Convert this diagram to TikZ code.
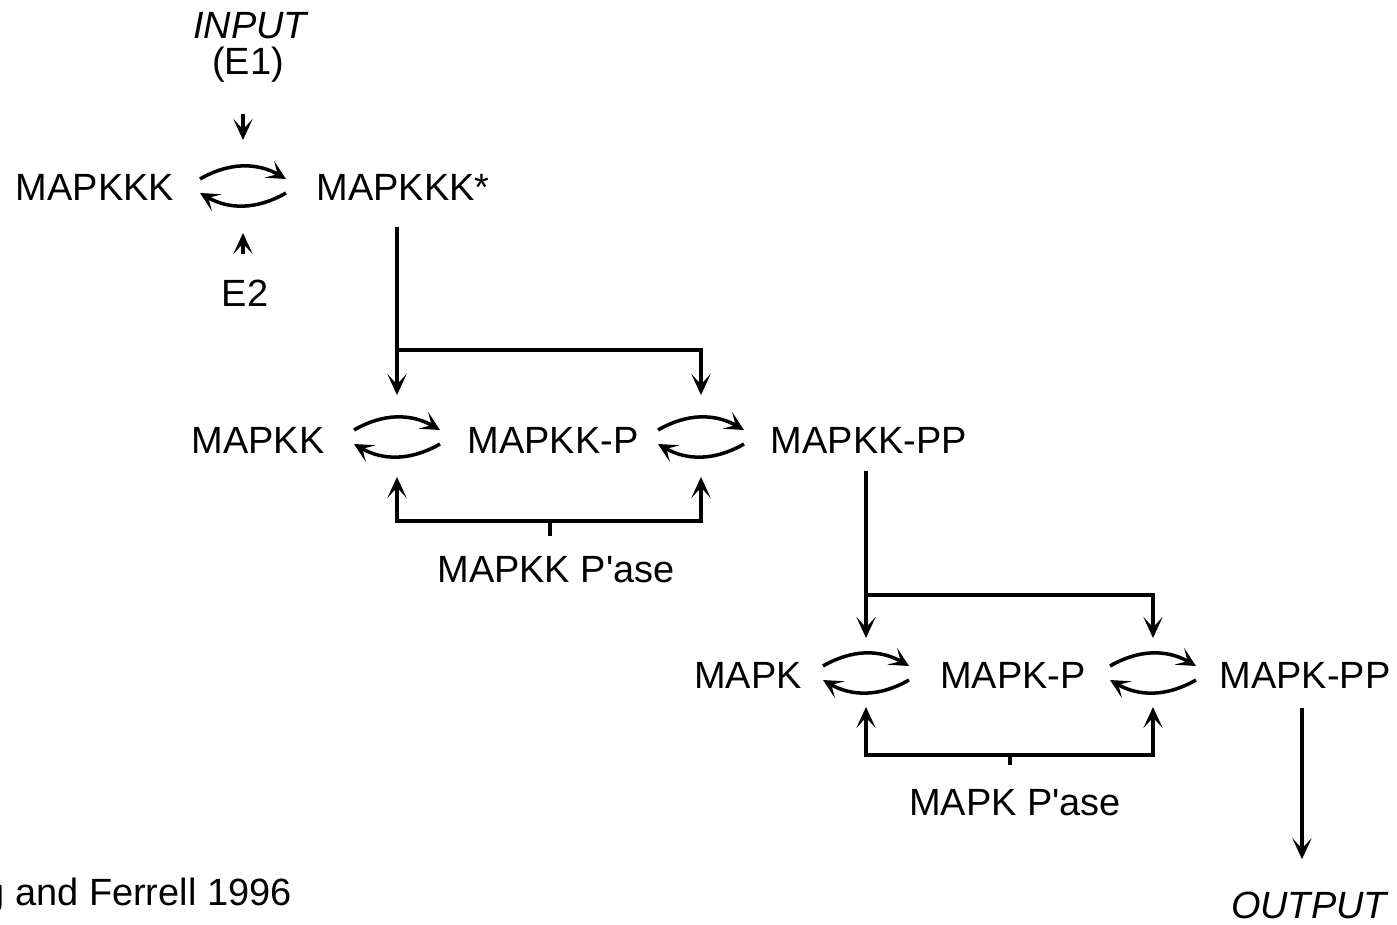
\documentclass[tikz,border=0pt]{standalone}
\usepackage{fontspec}
\setmainfont{Liberation Sans}
\usetikzlibrary{positioning, arrows.meta}
\tikzset{
    every node/.style={font=\fontsize{21.6}{26}\selectfont, inner sep=0pt},
    iolabel/.style={font=\fontsize{21.6}{26}\selectfont\itshape},
    cyc/.style={-{Stealth[length=11pt, width=11pt, inset=5.5pt]}, line width=2pt},
    arr/.style={-{Stealth[length=12pt, width=11pt, inset=6pt]}, line width=1.8pt},
    bar/.style={line width=1.8pt},
}
\begin{document}
\begin{tikzpicture}[x=0.02cm, y=-0.02cm]
\useasboundingbox (0,0) rectangle (1397,925);

% ── Species ────────────────────────────────────────────────────────
\node[iolabel] (input) at (250,26) {INPUT};
\node (e1) at (248,65) {(E1)};
\node (mapkkk)  at (95,187)  {MAPKKK};
\node (mapkkks) at (403,187) {MAPKKK*};
\node (e2) at (245,293) {E2};

\node (mapkk)   at (258,440) {MAPKK};
\node (mapkkp)  at (553,440) {MAPKK-P};
\node (mapkkpp) at (869,440) {MAPKK-PP};
\node (k2pase)  at (556,570) {MAPKK P\textquotesingle ase};

\node (mapk)    at (748,675)  {MAPK};
\node (mapkp)   at (1013,675) {MAPK-P};
\node (mapkpp)  at (1305,675) {MAPK-PP};
\node (k1pase)  at (1015,803) {MAPK P\textquotesingle ase};

\node[iolabel] (output) at (1309,905) {OUTPUT};
\node[anchor=base east] (cite) at (292,905) {Huang and Ferrell 1996};

% ── Cycle centres and branch points ───────────────────────────────
\coordinate (k3c)  at (243,186);
\coordinate (k2c1) at (397,437);
\coordinate (k2c2) at (701,437);
\coordinate (k1c1) at (866,673);
\coordinate (k1c2) at (1153,673);

\coordinate (k3br)  at (397,350);
\coordinate (k2bar) at (550,521);
\coordinate (k2br)  at (866,595);
\coordinate (k1bar) at (1010,755);

% ── Reversible steps ──────────────────────────────────────────────
\foreach \c in {k3c, k2c1, k2c2, k1c1, k1c2} {
    \draw[cyc] ([shift={(-43,-7)}]\c) to[bend left=30] ([shift={(43,-7)}]\c);
    \draw[cyc] ([shift={(43,7)}]\c) to[bend left=30] ([shift={(-43,7)}]\c);
}

% ── MAPKKK level ──────────────────────────────────────────────────
\draw[arr, shorten <=0.62cm, shorten >=0.92cm] (e1.south -| k3c) -- (k3c);
\draw[arr, shorten <=0.5cm, shorten >=0.94cm] (e2.north -| k3c) -- (k3c);

% ── MAPKKK* → MAPKK level ─────────────────────────────────────────
\draw[arr, shorten <=0.54cm, shorten >=0.84cm] (mapkkks.south -| k2c1) -- (k2c1);
\draw[arr, shorten >=0.84cm] (k3br) -| (k2c2);

\draw[arr, shorten >=0.8cm] (k2bar) -| (k2c1);
\draw[arr, shorten >=0.8cm] (k2bar) -| (k2c2);
\draw[bar, shorten >=0.4cm] (k2bar) -- (k2bar |- k2pase.north);

% ── MAPKK-PP → MAPK level ─────────────────────────────────────────
\draw[arr, shorten <=0.36cm, shorten >=0.7cm] (mapkkpp.south -| k1c1) -- (k1c1);
\draw[arr, shorten >=0.7cm] (k2br) -| (k1c2);

\draw[arr, shorten >=0.68cm] (k1bar) -| (k1c1);
\draw[arr, shorten >=0.68cm] (k1bar) -| (k1c2);
\draw[bar, shorten >=0.48cm] (k1bar) -- (k1bar |- k1pase.north);

% ── Output ────────────────────────────────────────────────────────
\draw[arr, shorten <=0.4cm, shorten >=0.64cm] (mapkpp.south -| 1302,0) -- (output.north -| 1302,0);

\end{tikzpicture}
\end{document}
